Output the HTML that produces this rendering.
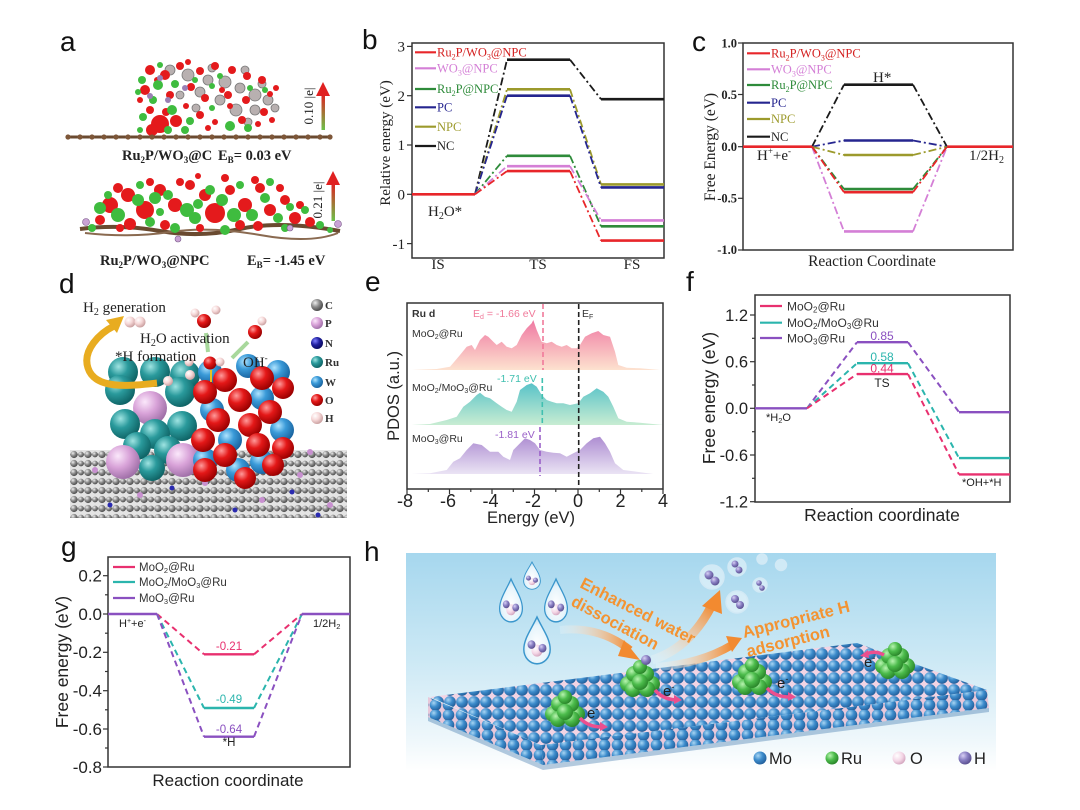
<!DOCTYPE html>
<html><head><meta charset="utf-8">
<style>
html,body{margin:0;padding:0;background:#fff;}
svg{display:block;}
.s{font-family:"Liberation Sans",Arial,sans-serif;}
.r{font-family:"Liberation Serif","Times New Roman",serif;}
</style></head><body>
<svg width="1080" height="810" viewBox="0 0 1080 810" xmlns="http://www.w3.org/2000/svg">
<defs>
 <linearGradient id="gPink" x1="0" y1="320" x2="0" y2="370" gradientUnits="userSpaceOnUse">
  <stop offset="0" stop-color="#ef78a2"/><stop offset="1" stop-color="#fde2cf"/></linearGradient>
 <linearGradient id="gGreen" x1="0" y1="383" x2="0" y2="425" gradientUnits="userSpaceOnUse">
  <stop offset="0" stop-color="#58c2c8"/><stop offset="1" stop-color="#c8ecd2"/></linearGradient>
 <linearGradient id="gPurp" x1="0" y1="437" x2="0" y2="475" gradientUnits="userSpaceOnUse">
  <stop offset="0" stop-color="#ae8ed2"/><stop offset="1" stop-color="#ece6f5"/></linearGradient>
 <linearGradient id="arrA" x1="0" y1="1" x2="0" y2="0">
  <stop offset="0" stop-color="#6cc24a"/><stop offset="1" stop-color="#e02020"/></linearGradient>
 <radialGradient id="ru" cx="0.35" cy="0.32" r="0.7"><stop offset="0" stop-color="#9fe4e2"/><stop offset="0.45" stop-color="#2a9a9c"/><stop offset="1" stop-color="#0f6466"/></radialGradient>
 <radialGradient id="ox" cx="0.35" cy="0.32" r="0.7"><stop offset="0" stop-color="#ff9a9a"/><stop offset="0.45" stop-color="#e41818"/><stop offset="1" stop-color="#9a0000"/></radialGradient>
 <radialGradient id="wb" cx="0.35" cy="0.32" r="0.7"><stop offset="0" stop-color="#b0e4ff"/><stop offset="0.45" stop-color="#3a9ad8"/><stop offset="1" stop-color="#1a64a0"/></radialGradient>
 <radialGradient id="pp" cx="0.35" cy="0.32" r="0.7"><stop offset="0" stop-color="#fbe8fb"/><stop offset="0.5" stop-color="#d8a2d8"/><stop offset="1" stop-color="#a070a8"/></radialGradient>
 <radialGradient id="hh" cx="0.35" cy="0.32" r="0.7"><stop offset="0" stop-color="#ffffff"/><stop offset="0.5" stop-color="#f6d8d8"/><stop offset="1" stop-color="#caa0a0"/></radialGradient>
 <radialGradient id="cc" cx="0.35" cy="0.32" r="0.7"><stop offset="0" stop-color="#eeeeee"/><stop offset="0.5" stop-color="#8c8c8c"/><stop offset="1" stop-color="#4a4a4a"/></radialGradient>
 <radialGradient id="nn" cx="0.35" cy="0.32" r="0.7"><stop offset="0" stop-color="#8080ff"/><stop offset="0.5" stop-color="#2020a0"/><stop offset="1" stop-color="#0a0a60"/></radialGradient>
 <radialGradient id="mo" cx="0.35" cy="0.32" r="0.7"><stop offset="0" stop-color="#a8d6f4"/><stop offset="0.5" stop-color="#3d8ccc"/><stop offset="1" stop-color="#23609c"/></radialGradient>
 <radialGradient id="ruG" cx="0.35" cy="0.32" r="0.7"><stop offset="0" stop-color="#b8f4b0"/><stop offset="0.5" stop-color="#4cbc4c"/><stop offset="1" stop-color="#2a862a"/></radialGradient>
 <radialGradient id="hP" cx="0.35" cy="0.32" r="0.7"><stop offset="0" stop-color="#d8d0f4"/><stop offset="0.5" stop-color="#8a80c4"/><stop offset="1" stop-color="#5a5090"/></radialGradient>
 <radialGradient id="oP" cx="0.35" cy="0.32" r="0.7"><stop offset="0" stop-color="#ffffff"/><stop offset="0.6" stop-color="#f4d6e6"/><stop offset="1" stop-color="#d4a8c0"/></radialGradient>
 <radialGradient id="dropG" cx="0.5" cy="0.6" r="0.6"><stop offset="0" stop-color="#ffffff"/><stop offset="0.7" stop-color="#e6f4fb"/><stop offset="1" stop-color="#b7dcf0"/></radialGradient>
 <linearGradient id="hbg" x1="0" y1="0" x2="0" y2="1">
  <stop offset="0" stop-color="#a6d7ee"/><stop offset="0.5" stop-color="#cde9f5"/><stop offset="0.85" stop-color="#eef7fb"/><stop offset="1" stop-color="#ffffff"/></linearGradient>
 <linearGradient id="orA" x1="0" y1="0" x2="1" y2="0">
  <stop offset="0" stop-color="#ffffff" stop-opacity="0.2"/><stop offset="1" stop-color="#f28a30"/></linearGradient>
 <linearGradient id="orB" x1="0" y1="1" x2="1" y2="0">
  <stop offset="0" stop-color="#ffffff" stop-opacity="0.2"/><stop offset="1" stop-color="#f28a30"/></linearGradient>
 <pattern id="slab" width="12" height="12" patternUnits="userSpaceOnUse">
  <rect width="12" height="12" fill="#f2d4e4"/><circle cx="6" cy="6" r="5.9" fill="url(#mo)"/></pattern>
 <pattern id="slab2" width="13" height="10" patternUnits="userSpaceOnUse">
  <rect width="13" height="10" fill="#e8c8da"/><circle cx="6.5" cy="5" r="5.8" fill="url(#mo)"/></pattern>
 <pattern id="carb" width="14" height="9" patternUnits="userSpaceOnUse">
  <rect width="14" height="9" fill="#e4e4e4"/><line x1="0" y1="4.5" x2="14" y2="4.5" stroke="#9a9a9a" stroke-width="1.6"/>
  <circle cx="4" cy="4.5" r="3.6" fill="url(#cc)"/><circle cx="11" cy="4.5" r="2.9" fill="url(#cc)"/></pattern>
 <g id="drop">
  <path d="M0,-20 C5,-10 12,-2 12,7 A12,12 0 0 1 -12,7 C-12,-2 -5,-10 0,-20 Z" fill="url(#dropG)" stroke="#3a96cc" stroke-width="1.3"/>
  <circle cx="0" cy="8" r="5" fill="url(#oP)"/><circle cx="-5" cy="3" r="3.6" fill="url(#hP)"/><circle cx="5" cy="6" r="3.6" fill="url(#hP)"/>
 </g>
 <g id="ruc">
  <circle cx="-12" cy="4" r="8" fill="url(#ruG)"/><circle cx="12" cy="4" r="8" fill="url(#ruG)"/>
  <circle cx="-6" cy="-6" r="8" fill="url(#ruG)"/><circle cx="6" cy="-6" r="8" fill="url(#ruG)"/>
  <circle cx="0" cy="-13" r="7" fill="url(#ruG)"/><circle cx="-7" cy="9" r="8" fill="url(#ruG)"/>
  <circle cx="7" cy="9" r="8" fill="url(#ruG)"/><circle cx="0" cy="2" r="8" fill="url(#ruG)"/>
 </g>
</defs>
<rect width="1080" height="810" fill="#fff"/>

<!-- ================= panel letters ================= -->
<g class="s" font-size="28" fill="#111">
 <text x="60" y="51">a</text>
 <text x="362" y="49">b</text>
 <text x="692" y="51">c</text>
 <text x="59" y="293">d</text>
 <text x="365" y="291">e</text>
 <text x="686" y="291">f</text>
 <text x="61" y="556">g</text>
 <text x="364" y="561">h</text>
</g>

<!-- ================= panel a ================= -->
<g>
 <!-- top structure -->
 <g fill="#b8b0b0" stroke="#777" stroke-width="0.8">
  <circle cx="170" cy="70" r="5"/><circle cx="188" cy="75" r="6"/><circle cx="208" cy="80" r="5"/><circle cx="225" cy="82" r="6"/>
  <circle cx="240" cy="88" r="5"/><circle cx="255" cy="95" r="6"/><circle cx="268" cy="100" r="5"/><circle cx="220" cy="100" r="5"/>
  <circle cx="200" cy="92" r="5"/><circle cx="236" cy="110" r="6"/><circle cx="255" cy="110" r="5"/><circle cx="180" cy="95" r="4"/>
  <circle cx="245" cy="70" r="4"/><circle cx="262" cy="84" r="4"/><circle cx="275" cy="108" r="4"/><circle cx="212" cy="68" r="4"/>
  <circle cx="196" cy="108" r="4"/><circle cx="248" cy="122" r="4"/>
 </g>
 <g fill="#e41a1c">
  <circle cx="150" cy="70" r="5"/><circle cx="165" cy="75" r="5"/><circle cx="180" cy="66" r="4"/><circle cx="200" cy="71" r="4"/>
  <circle cx="215" cy="66" r="4"/><circle cx="232" cy="70" r="4"/><circle cx="247" cy="76" r="4"/><circle cx="262" cy="80" r="4"/>
  <circle cx="276" cy="88" r="3"/><circle cx="145" cy="90" r="5"/><circle cx="170" cy="95" r="4"/><circle cx="191" cy="87" r="4"/>
  <circle cx="205" cy="98" r="4"/><circle cx="228" cy="95" r="4"/><circle cx="246" cy="100" r="4"/><circle cx="264" cy="112" r="4"/>
  <circle cx="272" cy="120" r="3"/><circle cx="150" cy="110" r="4"/><circle cx="160" cy="124" r="9"/><circle cx="176" cy="121" r="6"/>
  <circle cx="200" cy="115" r="4"/><circle cx="215" cy="122" r="3"/><circle cx="242" cy="120" r="4"/><circle cx="258" cy="124" r="3"/>
  <circle cx="140" cy="100" r="3"/><circle cx="186" cy="106" r="3"/><circle cx="230" cy="106" r="3"/><circle cx="152" cy="130" r="6"/>
  <circle cx="157" cy="80" r="3"/><circle cx="188" cy="62" r="3"/><circle cx="222" cy="90" r="3"/><circle cx="270" cy="94" r="3"/>
  <circle cx="166" cy="112" r="4"/><circle cx="208" cy="128" r="3"/>
 </g>
 <g fill="#3fbc3f">
  <circle cx="142" cy="80" r="4"/><circle cx="158" cy="85" r="5"/><circle cx="175" cy="84" r="4"/><circle cx="195" cy="80" r="3"/>
  <circle cx="212" cy="86" r="3"/><circle cx="250" cy="88" r="3"/><circle cx="153" cy="100" r="4"/><circle cx="172" cy="110" r="5"/>
  <circle cx="190" cy="121" r="4"/><circle cx="212" cy="108" r="3"/><circle cx="230" cy="126" r="5"/><circle cx="248" cy="128" r="4"/>
  <circle cx="185" cy="130" r="4"/><circle cx="143" cy="117" r="4"/><circle cx="265" cy="90" r="3"/><circle cx="220" cy="76" r="3"/>
  <circle cx="160" cy="65" r="3"/><circle cx="140" cy="130" r="3"/><circle cx="168" cy="130" r="4"/><circle cx="138" cy="92" r="3"/>
 </g>
 <g fill="#9a7fb4"><circle cx="160" cy="78" r="3"/><circle cx="150" cy="96" r="3"/><circle cx="168" cy="100" r="3"/><circle cx="185" cy="88" r="3"/></g>
 <line x1="67" y1="137" x2="330" y2="137" stroke="#6a4a30" stroke-width="3"/>
 <g fill="#7d5638">
  <circle cx="68" cy="137" r="2.6"/><circle cx="80" cy="137" r="2.6"/><circle cx="92" cy="137" r="2.6"/><circle cx="104" cy="137" r="2.6"/>
  <circle cx="116" cy="137" r="2.6"/><circle cx="128" cy="137" r="2.6"/><circle cx="140" cy="137" r="2.6"/><circle cx="152" cy="137" r="2.6"/>
  <circle cx="164" cy="137" r="2.6"/><circle cx="176" cy="137" r="2.6"/><circle cx="188" cy="137" r="2.6"/><circle cx="200" cy="137" r="2.6"/>
  <circle cx="212" cy="137" r="2.6"/><circle cx="224" cy="137" r="2.6"/><circle cx="236" cy="137" r="2.6"/><circle cx="248" cy="137" r="2.6"/>
  <circle cx="260" cy="137" r="2.6"/><circle cx="272" cy="137" r="2.6"/><circle cx="284" cy="137" r="2.6"/><circle cx="296" cy="137" r="2.6"/>
  <circle cx="308" cy="137" r="2.6"/><circle cx="320" cy="137" r="2.6"/><circle cx="330" cy="137" r="2.6"/>
 </g>
 <rect x="321.5" y="94" width="3.5" height="36" fill="url(#arrA)"/>
 <polygon points="316,96 330,96 323,82" fill="#e02020"/>
 <text class="r" font-size="13" fill="#222" transform="translate(313,106) rotate(-90)" text-anchor="middle">0.10 |e|</text>
 <g class="r" font-size="14.5" font-weight="bold" fill="#222">
  <text x="122" y="160">Ru<tspan font-size="9" dy="3">2</tspan><tspan dy="-3">P/WO</tspan><tspan font-size="9" dy="3">3</tspan><tspan dy="-3">@C</tspan></text>
  <text x="218" y="160">E<tspan font-size="9" dy="3">B</tspan><tspan dy="-3">= 0.03 eV</tspan></text>
 </g>
 <!-- bottom structure -->
 <path d="M80,229 Q120,224 160,231 T240,229 T340,231" fill="none" stroke="#6a4a30" stroke-width="4"/>
 <path d="M85,233 Q130,238 170,232 T260,235 T338,233" fill="none" stroke="#8a6a50" stroke-width="2"/>
 <g fill="#e41a1c">
  <circle cx="110" cy="205" r="8"/><circle cx="128" cy="195" r="7"/><circle cx="145" cy="210" r="9"/><circle cx="130" cy="224" r="6"/>
  <circle cx="160" cy="190" r="6"/><circle cx="175" cy="205" r="7"/><circle cx="190" cy="185" r="5"/><circle cx="205" cy="195" r="6"/>
  <circle cx="215" cy="213" r="10"/><circle cx="230" cy="190" r="5"/><circle cx="245" cy="205" r="7"/><circle cx="260" cy="188" r="5"/>
  <circle cx="270" cy="210" r="6"/><circle cx="285" cy="200" r="5"/><circle cx="295" cy="218" r="6"/><circle cx="310" cy="222" r="5"/>
  <circle cx="100" cy="220" r="5"/><circle cx="165" cy="225" r="5"/><circle cx="240" cy="225" r="5"/><circle cx="200" cy="228" r="4"/>
  <circle cx="180" cy="182" r="4"/><circle cx="255" cy="180" r="4"/><circle cx="225" cy="178" r="4"/><circle cx="198" cy="176" r="3"/>
  <circle cx="118" cy="188" r="5"/><circle cx="150" cy="182" r="4"/><circle cx="280" cy="188" r="4"/><circle cx="300" cy="205" r="4"/>
  <circle cx="258" cy="226" r="5"/><circle cx="120" cy="228" r="4"/>
 </g>
 <g fill="#3fbc3f">
  <circle cx="100" cy="208" r="6"/><circle cx="118" cy="215" r="7"/><circle cx="138" cy="200" r="6"/><circle cx="155" cy="198" r="6"/>
  <circle cx="150" cy="222" r="5"/><circle cx="168" cy="195" r="5"/><circle cx="187" cy="210" r="7"/><circle cx="198" cy="204" r="5"/>
  <circle cx="210" cy="190" r="5"/><circle cx="222" cy="200" r="6"/><circle cx="234" cy="215" r="7"/><circle cx="252" cy="215" r="6"/>
  <circle cx="265" cy="198" r="5"/><circle cx="278" cy="218" r="5"/><circle cx="290" cy="207" r="4"/><circle cx="305" cy="210" r="4"/>
  <circle cx="320" cy="225" r="4"/><circle cx="195" cy="218" r="6"/><circle cx="175" cy="228" r="5"/><circle cx="225" cy="230" r="5"/>
  <circle cx="140" cy="185" r="4"/><circle cx="270" cy="182" r="4"/><circle cx="92" cy="228" r="4"/><circle cx="330" cy="230" r="3"/>
  <circle cx="108" cy="195" r="4"/><circle cx="240" cy="185" r="4"/><circle cx="285" cy="228" r="4"/><circle cx="160" cy="212" r="4"/>
 </g>
 <g fill="#c9a2d4" stroke="#7a5a8a" stroke-width="0.6">
  <circle cx="86" cy="222" r="3.5"/><circle cx="338" cy="224" r="3.5"/><circle cx="178" cy="239" r="3"/><circle cx="290" cy="228" r="3"/>
 </g>
 <rect x="331.5" y="183" width="3.5" height="38" fill="url(#arrA)"/>
 <polygon points="326,185 340,185 333,171" fill="#e02020"/>
 <text class="r" font-size="13" fill="#222" transform="translate(322,200) rotate(-90)" text-anchor="middle">0.21 |e|</text>
 <g class="r" font-size="14.5" font-weight="bold" fill="#222">
  <text x="100" y="265">Ru<tspan font-size="9" dy="3">2</tspan><tspan dy="-3">P/WO</tspan><tspan font-size="9" dy="3">3</tspan><tspan dy="-3">@NPC</tspan></text>
  <text x="247" y="265">E<tspan font-size="9" dy="3">B</tspan><tspan dy="-3">= -1.45 eV</tspan></text>
 </g>
</g>

<!-- ================= panel b ================= -->
<g class="r">
 <rect x="412" y="43" width="252" height="215" fill="none" stroke="#333" stroke-width="1.5"/>
 <g stroke="#333" stroke-width="1.2">
  <line x1="407" y1="46.4" x2="412" y2="46.4"/><line x1="407" y1="95.7" x2="412" y2="95.7"/><line x1="407" y1="145" x2="412" y2="145"/>
  <line x1="407" y1="194.3" x2="412" y2="194.3"/><line x1="407" y1="243.6" x2="412" y2="243.6"/>
 </g>
 <g font-size="15" fill="#222" text-anchor="end">
  <text x="405" y="51.5">3</text><text x="405" y="101">2</text><text x="405" y="150">1</text><text x="405" y="199.5">0</text><text x="405" y="249">-1</text>
 </g>
 <text font-size="15" fill="#222" transform="translate(390,143) rotate(-90)" text-anchor="middle">Relative energy (eV)</text>
 <g font-size="15" fill="#222" text-anchor="middle">
  <text x="438" y="269">IS</text><text x="538" y="269">TS</text><text x="632" y="269">FS</text>
 </g>
 <text x="428" y="216" font-size="15" fill="#222">H<tspan font-size="10" dy="3">2</tspan><tspan dy="-3">O*</tspan></text>
 <g fill="none" stroke-width="1.8" stroke-dasharray="8,3,2,3">
  <path d="M475,194.3 L507,59.7 M570,59.7 L601,99.2" stroke="#1a1a1a"/>
  <path d="M475,194.3 L507,89.3 M570,89.3 L601,184.4" stroke="#9c9a2c"/>
  <path d="M475,194.3 L507,95.7 M570,95.7 L601,187.4" stroke="#25258f"/>
  <path d="M475,194.3 L507,155.8 M570,155.8 L601,226.3" stroke="#2e8b3a"/>
  <path d="M475,194.3 L507,166.2 M570,166.2 L601,220.4" stroke="#d47fd6"/>
  <path d="M475,194.3 L507,171.1 M570,171.1 L601,240.6" stroke="#e8262a"/>
 </g>
 <g fill="none" stroke-width="2.6">
  <path d="M507,59.7 H570 M601,99.2 H664" stroke="#1a1a1a"/>
  <path d="M507,89.3 H570 M601,184.4 H664" stroke="#9c9a2c"/>
  <path d="M507,95.7 H570 M601,187.4 H664" stroke="#25258f"/>
  <path d="M507,155.8 H570 M601,226.3 H664" stroke="#2e8b3a"/>
  <path d="M507,166.2 H570 M601,220.4 H664" stroke="#d47fd6"/>
  <path d="M507,171.1 H570 M601,240.6 H664 M412,194.3 H475" stroke="#e8262a"/>
 </g>
 <g stroke-width="2.2">
  <line x1="415" y1="52.3" x2="436" y2="52.3" stroke="#e8262a"/>
  <line x1="415" y1="68.3" x2="436" y2="68.3" stroke="#d47fd6"/>
  <line x1="415" y1="89" x2="436" y2="89" stroke="#2e8b3a"/>
  <line x1="415" y1="107.3" x2="436" y2="107.3" stroke="#25258f"/>
  <line x1="415" y1="126.7" x2="436" y2="126.7" stroke="#9c9a2c"/>
  <line x1="415" y1="146" x2="436" y2="146" stroke="#1a1a1a"/>
 </g>
 <g font-size="12.5">
  <text x="437" y="56.5" fill="#d42020">Ru<tspan font-size="8" dy="3">2</tspan><tspan dy="-3">P/WO</tspan><tspan font-size="8" dy="3">3</tspan><tspan dy="-3">@NPC</tspan></text>
  <text x="437" y="72.5" fill="#d47fd6">WO<tspan font-size="8" dy="3">3</tspan><tspan dy="-3">@NPC</tspan></text>
  <text x="437" y="93" fill="#2e8b3a">Ru<tspan font-size="8" dy="3">2</tspan><tspan dy="-3">P@NPC</tspan></text>
  <text x="437" y="111.5" fill="#25258f">PC</text>
  <text x="437" y="131" fill="#9c9a2c">NPC</text>
  <text x="437" y="150" fill="#222">NC</text>
 </g>
</g>

<!-- ================= panel c ================= -->
<g class="r">
 <rect x="743" y="43" width="270" height="207" fill="none" stroke="#333" stroke-width="1.5"/>
 <g stroke="#333" stroke-width="1.2">
  <line x1="738" y1="43" x2="743" y2="43"/><line x1="738" y1="94.5" x2="743" y2="94.5"/><line x1="738" y1="146.7" x2="743" y2="146.7"/>
  <line x1="738" y1="198.3" x2="743" y2="198.3"/><line x1="738" y1="250" x2="743" y2="250"/>
 </g>
 <g font-size="12.5" fill="#222" text-anchor="end" font-weight="bold">
  <text x="737" y="47.5">1.0</text><text x="737" y="99">0.5</text><text x="737" y="151">0.0</text><text x="737" y="202.5">-0.5</text><text x="737" y="254">-1.0</text>
 </g>
 <text font-size="15.5" fill="#222" transform="translate(715,147) rotate(-90)" text-anchor="middle">Free Energy (eV)</text>
 <text x="872" y="266" font-size="15.5" fill="#222" text-anchor="middle">Reaction Coordinate</text>
 <g fill="none" stroke-width="1.8" stroke-dasharray="8,3,2,3">
  <path d="M812,146.7 L844,84.7 M913,84.7 L947,146.7" stroke="#1a1a1a"/>
  <path d="M812,146.7 L844,140.5 M913,140.5 L947,146.7" stroke="#25258f"/>
  <path d="M812,146.7 L844,155 M913,155 L947,146.7" stroke="#9c9a2c"/>
  <path d="M812,146.7 L844,231.4 M913,231.4 L947,146.7" stroke="#d47fd6"/>
  <path d="M812,146.7 L844,189.1 M913,189.1 L947,146.7" stroke="#2e8b3a"/>
  <path d="M812,146.7 L844,192.2 M913,192.2 L947,146.7" stroke="#e8262a"/>
 </g>
 <g fill="none" stroke-width="2.6">
  <path d="M844,84.7 H913" stroke="#1a1a1a"/>
  <path d="M844,140.5 H913" stroke="#25258f"/>
  <path d="M844,155 H913" stroke="#9c9a2c"/>
  <path d="M844,231.4 H913" stroke="#d47fd6"/>
  <path d="M844,192.2 H913" stroke="#e8262a"/>
  <path d="M844,189.1 H913" stroke="#2e8b3a"/>
  <path d="M743,146.7 H812 M947,146.7 H1013" stroke="#e8262a"/>
 </g>
 <g stroke-width="2.2">
  <line x1="747" y1="53.3" x2="770" y2="53.3" stroke="#e8262a"/>
  <line x1="747" y1="69.3" x2="770" y2="69.3" stroke="#d47fd6"/>
  <line x1="747" y1="85" x2="770" y2="85" stroke="#2e8b3a"/>
  <line x1="747" y1="102.7" x2="770" y2="102.7" stroke="#25258f"/>
  <line x1="747" y1="119" x2="770" y2="119" stroke="#9c9a2c"/>
  <line x1="747" y1="136.7" x2="770" y2="136.7" stroke="#1a1a1a"/>
 </g>
 <g font-size="12.5">
  <text x="771" y="57.5" fill="#d42020">Ru<tspan font-size="8" dy="3">2</tspan><tspan dy="-3">P/WO</tspan><tspan font-size="8" dy="3">3</tspan><tspan dy="-3">@NPC</tspan></text>
  <text x="771" y="73.5" fill="#d47fd6">WO<tspan font-size="8" dy="3">3</tspan><tspan dy="-3">@NPC</tspan></text>
  <text x="771" y="89" fill="#2e8b3a">Ru<tspan font-size="8" dy="3">2</tspan><tspan dy="-3">P@NPC</tspan></text>
  <text x="771" y="107" fill="#25258f">PC</text>
  <text x="771" y="123" fill="#9c9a2c">NPC</text>
  <text x="771" y="141" fill="#222">NC</text>
 </g>
 <text x="873" y="82" font-size="15" fill="#222">H*</text>
 <text x="757" y="160" font-size="15" fill="#222">H<tspan font-size="9" dy="-6">+</tspan><tspan dy="6">+e</tspan><tspan font-size="9" dy="-6">-</tspan></text>
 <text x="969" y="160" font-size="15" fill="#222">1/2H<tspan font-size="10" dy="3">2</tspan></text>
</g>

<!-- ================= panel d ================= -->
<g>
 <rect x="70" y="450" width="277" height="68" fill="url(#carb)"/>
 <g fill="#c890d0"><circle cx="95" cy="470" r="3"/><circle cx="140" cy="495" r="3"/><circle cx="205" cy="483" r="3"/><circle cx="262" cy="500" r="3"/><circle cx="300" cy="475" r="3"/><circle cx="330" cy="505" r="3"/><circle cx="310" cy="452" r="3"/></g>
 <g fill="#2a2ab0"><circle cx="110" cy="505" r="2.5"/><circle cx="172" cy="488" r="2.5"/><circle cx="235" cy="510" r="2.5"/><circle cx="292" cy="492" r="2.5"/><circle cx="318" cy="515" r="2.5"/></g>
 <!-- Ru block -->
 <g>
  <circle cx="123" cy="372" r="15" fill="url(#ru)"/><circle cx="155" cy="372" r="15" fill="url(#ru)"/><circle cx="185" cy="375" r="15" fill="url(#ru)"/>
  <circle cx="120" cy="390" r="15" fill="url(#ru)"/><circle cx="180" cy="392" r="15" fill="url(#ru)"/>
  <circle cx="150" cy="408" r="17" fill="url(#pp)"/>
  <circle cx="125" cy="424" r="15" fill="url(#ru)"/><circle cx="182" cy="426" r="15" fill="url(#ru)"/><circle cx="155" cy="434" r="15" fill="url(#ru)"/>
  <circle cx="137" cy="446" r="14" fill="url(#ru)"/><circle cx="168" cy="450" r="14" fill="url(#ru)"/>
  <circle cx="123" cy="462" r="17" fill="url(#pp)"/><circle cx="183" cy="460" r="17" fill="url(#pp)"/>
  <circle cx="152" cy="468" r="13" fill="url(#ru)"/>
 </g>
 <!-- W/O block -->
 <g>
  <circle cx="210" cy="372" r="12" fill="url(#wb)"/><circle cx="248" cy="366" r="12" fill="url(#wb)"/><circle cx="278" cy="372" r="12" fill="url(#wb)"/>
  <circle cx="212" cy="410" r="12" fill="url(#wb)"/><circle cx="262" cy="398" r="12" fill="url(#wb)"/><circle cx="282" cy="430" r="12" fill="url(#wb)"/>
  <circle cx="230" cy="440" r="12" fill="url(#wb)"/><circle cx="205" cy="460" r="12" fill="url(#wb)"/><circle cx="262" cy="462" r="12" fill="url(#wb)"/>
  <circle cx="238" cy="470" r="12" fill="url(#wb)"/>
  <circle cx="225" cy="380" r="12" fill="url(#ox)"/><circle cx="262" cy="378" r="12" fill="url(#ox)"/><circle cx="283" cy="388" r="11" fill="url(#ox)"/>
  <circle cx="205" cy="392" r="12" fill="url(#ox)"/><circle cx="240" cy="400" r="12" fill="url(#ox)"/><circle cx="270" cy="412" r="12" fill="url(#ox)"/>
  <circle cx="218" cy="420" r="12" fill="url(#ox)"/><circle cx="250" cy="425" r="12" fill="url(#ox)"/><circle cx="283" cy="448" r="11" fill="url(#ox)"/>
  <circle cx="203" cy="440" r="12" fill="url(#ox)"/><circle cx="258" cy="445" r="12" fill="url(#ox)"/><circle cx="225" cy="455" r="12" fill="url(#ox)"/>
  <circle cx="273" cy="465" r="11" fill="url(#ox)"/><circle cx="205" cy="470" r="12" fill="url(#ox)"/><circle cx="245" cy="478" r="11" fill="url(#ox)"/>
 </g>
 <!-- H and water -->
 <g>
  <circle cx="190" cy="375" r="5" fill="url(#hh)"/><circle cx="168" cy="381" r="5" fill="url(#hh)"/><circle cx="189" cy="362" r="4.5" fill="url(#hh)"/>
  <circle cx="130" cy="322" r="5.5" fill="url(#hh)"/><circle cx="140" cy="322" r="5.5" fill="url(#hh)"/>
  <circle cx="210" cy="363" r="6.5" fill="url(#ox)"/><circle cx="220" cy="362" r="4.5" fill="url(#hh)"/>
  <circle cx="204" cy="321" r="7" fill="url(#ox)"/><circle cx="195" cy="313" r="4.5" fill="url(#hh)"/><circle cx="216" cy="310" r="4.5" fill="url(#hh)"/>
  <circle cx="255" cy="332" r="7" fill="url(#ox)"/><circle cx="262" cy="321" r="4.5" fill="url(#hh)"/>
  <line x1="211" y1="370" x2="211" y2="382" stroke="#e8c020" stroke-width="2"/>
 </g>
 <g stroke="#a8d89c" stroke-width="4" fill="none">
  <line x1="206" y1="333" x2="208" y2="352"/><line x1="248" y1="342" x2="232" y2="358"/>
 </g>
 <path d="M157,383 C130,386 95,390 88,368 C82,350 100,333 114,326" fill="none" stroke="#e8ac20" stroke-width="7"/>
 <polygon points="106,320 124,316 117,333" fill="#e8ac20"/>
 <g class="r" fill="#222" font-size="15">
  <text x="83" y="312">H<tspan font-size="10" dy="3">2</tspan><tspan dy="-3"> generation</tspan></text>
  <text x="140" y="343">H<tspan font-size="10" dy="3">2</tspan><tspan dy="-3">O activation</tspan></text>
  <text x="115" y="361">*H formation</text>
  <text x="243" y="367">OH<tspan font-size="9" dy="-6">-</tspan></text>
 </g>
 <g>
  <circle cx="317" cy="305" r="6" fill="url(#cc)"/><circle cx="317" cy="323" r="6" fill="url(#pp)"/><circle cx="317" cy="343" r="6" fill="url(#nn)"/>
  <circle cx="317" cy="362" r="6" fill="url(#ru)"/><circle cx="317" cy="382" r="6" fill="url(#wb)"/><circle cx="317" cy="400" r="6" fill="url(#ox)"/>
  <circle cx="317" cy="418" r="6" fill="url(#hh)"/>
 </g>
 <g class="r" font-size="11" font-weight="bold" fill="#333">
  <text x="325" y="309">C</text><text x="325" y="327">P</text><text x="325" y="347">N</text><text x="325" y="366">Ru</text>
  <text x="325" y="386">W</text><text x="325" y="404">O</text><text x="325" y="422">H</text>
 </g>
</g>

<!-- ================= panel e ================= -->
<g class="s">
 <path d="M411.7,370 L436.7,369 L450,366.7 L460,355 L466.7,346.7 L471.7,345 L475,350 L480,340 L485,335 L488.3,336.7 L493.3,341.7 L496.7,345 L501.7,341.7 L506.7,346.7 L511.7,348.3 L516.7,345 L521.7,335 L526.7,328.3 L531.7,323.3 L533.3,320 L536.7,330 L541.7,341.7 L546.7,343.3 L551.7,341.7 L556.7,345 L561.7,346.7 L566.7,345 L571.7,348.3 L576.7,348.3 L580,345 L585,336.7 L591.7,333.3 L598.3,331 L603.3,335 L610,336.7 L615,351.7 L618.3,365 L626.7,367.7 L640,368.3 L660,370 Z" fill="url(#gPink)"/>
 <path d="M411.7,425 L430,424 L446.7,420 L456.7,416.7 L463.3,406.7 L470,401.7 L476.7,395 L480,392.7 L485,396.7 L490,398.3 L496.7,403.3 L501.7,406.7 L506.7,410 L511.7,411.7 L516.7,401.7 L520,390 L526.7,385 L531.7,383.3 L536.7,386.7 L541.7,395 L546.7,400 L551.7,401.7 L556.7,403.3 L563.3,403.3 L570,405 L578.3,403.3 L583.3,396.7 L590,393.3 L596.7,388.3 L603.3,391.7 L608.3,396.7 L613.3,406.7 L618.3,418.3 L626.7,421.7 L640,422.7 L663,425 Z" fill="url(#gGreen)"/>
 <path d="M411.7,474 L430,473.3 L446.7,470 L453.3,461.7 L460,458.3 L466.7,450 L473.3,443.3 L481.7,445 L490,451.7 L498.3,451.7 L503.3,456.7 L510,460 L513.3,450 L520,443.3 L525,438.3 L530,440 L535,443.3 L540,450 L546.7,451.7 L553.3,452.7 L560,453.3 L566.7,456.7 L573.3,453.3 L580,450 L586.7,443.3 L593.3,438.3 L600,436.7 L605,443.3 L610,451.7 L615,463.3 L623.3,470 L636.7,471.7 L653.3,474 Z" fill="url(#gPurp)"/>
 <g stroke-width="1.6" stroke-dasharray="5,3">
  <line x1="578.7" y1="304" x2="578.7" y2="488" stroke="#222"/>
  <line x1="543" y1="304" x2="543" y2="370" stroke="#f07a9a"/>
  <line x1="542.3" y1="378" x2="542.3" y2="425" stroke="#40c0b0"/>
  <line x1="540" y1="427" x2="540" y2="476" stroke="#9a60c8"/>
 </g>
 <rect x="407" y="303" width="256" height="186" fill="none" stroke="#333" stroke-width="1.5"/>
 <g stroke="#333" stroke-width="1.2">
  <line x1="407" y1="489" x2="407" y2="494"/><line x1="449.5" y1="489" x2="449.5" y2="494"/><line x1="492" y1="489" x2="492" y2="494"/>
  <line x1="534.5" y1="489" x2="534.5" y2="494"/><line x1="578" y1="489" x2="578" y2="494"/><line x1="620.5" y1="489" x2="620.5" y2="494"/>
  <line x1="663" y1="489" x2="663" y2="494"/>
  <line x1="428.3" y1="489" x2="428.3" y2="492"/><line x1="470.8" y1="489" x2="470.8" y2="492"/><line x1="513.3" y1="489" x2="513.3" y2="492"/>
  <line x1="555.8" y1="489" x2="555.8" y2="492"/><line x1="599.3" y1="489" x2="599.3" y2="492"/><line x1="641.8" y1="489" x2="641.8" y2="492"/>
 </g>
 <g font-size="18" fill="#222" text-anchor="middle">
  <text x="405" y="507">-8</text><text x="448" y="507">-6</text><text x="490.5" y="507">-4</text><text x="533" y="507">-2</text>
  <text x="578" y="507">0</text><text x="620.5" y="507">2</text><text x="663" y="507">4</text>
 </g>
 <text x="531" y="523" font-size="16.5" fill="#222" text-anchor="middle">Energy (eV)</text>
 <text font-size="16.5" fill="#222" transform="translate(399,396) rotate(-90)" text-anchor="middle">PDOS (a.u.)</text>
 <g font-size="10.5" fill="#333">
  <text x="412" y="317" font-weight="bold">Ru d</text>
  <text x="412" y="337">MoO<tspan font-size="7" dy="2">2</tspan><tspan dy="-2">@Ru</tspan></text>
  <text x="473" y="317" fill="#f07a9a">E<tspan font-size="7" dy="2">d</tspan><tspan dy="-2"> = -1.66 eV</tspan></text>
  <text x="582" y="317">E<tspan font-size="7" dy="2">F</tspan></text>
  <text x="497" y="382" fill="#40c0b0">-1.71 eV</text>
  <text x="412" y="391">MoO<tspan font-size="7" dy="2">2</tspan><tspan dy="-2">/MoO</tspan><tspan font-size="7" dy="2">3</tspan><tspan dy="-2">@Ru</tspan></text>
  <text x="495" y="438" fill="#9a60c8">-1.81 eV</text>
  <text x="412" y="442">MoO<tspan font-size="7" dy="2">3</tspan><tspan dy="-2">@Ru</tspan></text>
 </g>
</g>

<!-- ================= panel f ================= -->
<g class="s">
 <rect x="755" y="295" width="255" height="207" fill="none" stroke="#333" stroke-width="1.5"/>
 <g stroke="#333" stroke-width="1.2">
  <line x1="750" y1="315" x2="755" y2="315"/><line x1="750" y1="361.7" x2="755" y2="361.7"/><line x1="750" y1="408.3" x2="755" y2="408.3"/>
  <line x1="750" y1="455" x2="755" y2="455"/><line x1="750" y1="501.7" x2="755" y2="501.7"/>
  <line x1="752" y1="338.3" x2="755" y2="338.3"/><line x1="752" y1="385" x2="755" y2="385"/><line x1="752" y1="431.7" x2="755" y2="431.7"/><line x1="752" y1="478.3" x2="755" y2="478.3"/>
 </g>
 <g font-size="16.5" fill="#222" text-anchor="end">
  <text x="748" y="321">1.2</text><text x="748" y="367.5">0.6</text><text x="748" y="414">0.0</text><text x="748" y="461">-0.6</text><text x="748" y="507.5">-1.2</text>
 </g>
 <text font-size="17.5" fill="#222" transform="translate(715,398) rotate(-90)" text-anchor="middle">Free energy (eV)</text>
 <text x="882" y="521" font-size="17.5" fill="#222" text-anchor="middle">Reaction coordinate</text>
 <g fill="none" stroke-width="2" stroke-dasharray="6,4">
  <path d="M807,408.3 L857,342.2 M908,342.2 L959,412.2" stroke="#8a50c0"/>
  <path d="M807,408.3 L857,363.2 M908,363.2 L959,458.1" stroke="#2bb5ad"/>
  <path d="M807,408.3 L857,374.1 M908,374.1 L959,474.4" stroke="#e8306f"/>
 </g>
 <g fill="none" stroke-width="2.4">
  <path d="M857,342.2 H908 M959,412.2 H1010 M755,408.3 H807" stroke="#8a50c0"/>
  <path d="M857,363.2 H908 M959,458.1 H1010" stroke="#2bb5ad"/>
  <path d="M857,374.1 H908 M959,474.4 H1010" stroke="#e8306f"/>
 </g>
 <g stroke-width="2.2">
  <line x1="760" y1="306" x2="782" y2="306" stroke="#e8306f"/>
  <line x1="760" y1="322.7" x2="782" y2="322.7" stroke="#2bb5ad"/>
  <line x1="760" y1="338" x2="782" y2="338" stroke="#8a50c0"/>
 </g>
 <g font-size="12" fill="#333">
  <text x="787" y="310.5">MoO<tspan font-size="8" dy="2">2</tspan><tspan dy="-2">@Ru</tspan></text>
  <text x="787" y="327">MoO<tspan font-size="8" dy="2">2</tspan><tspan dy="-2">/MoO</tspan><tspan font-size="8" dy="2">3</tspan><tspan dy="-2">@Ru</tspan></text>
  <text x="787" y="342.5">MoO<tspan font-size="8" dy="2">3</tspan><tspan dy="-2">@Ru</tspan></text>
 </g>
 <g font-size="12" text-anchor="middle">
  <text x="882" y="340" fill="#8a50c0">0.85</text>
  <text x="882" y="361" fill="#2bb5ad">0.58</text>
  <text x="882" y="372.5" fill="#e8306f">0.44</text>
  <text x="882" y="387" fill="#222">TS</text>
 </g>
 <g font-size="11" fill="#222">
  <text x="766" y="421">*H<tspan font-size="7.5" dy="2">2</tspan><tspan dy="-2">O</tspan></text>
  <text x="962" y="486">*OH+*H</text>
 </g>
</g>

<!-- ================= panel g ================= -->
<g class="s">
 <rect x="108" y="557" width="242" height="210" fill="none" stroke="#333" stroke-width="1.5"/>
 <g stroke="#333" stroke-width="1.2">
  <line x1="103" y1="575.7" x2="108" y2="575.7"/><line x1="103" y1="614" x2="108" y2="614"/><line x1="103" y1="652.3" x2="108" y2="652.3"/>
  <line x1="103" y1="690.7" x2="108" y2="690.7"/><line x1="103" y1="729" x2="108" y2="729"/><line x1="103" y1="767" x2="108" y2="767"/>
  <line x1="105" y1="594.8" x2="108" y2="594.8"/><line x1="105" y1="633.2" x2="108" y2="633.2"/><line x1="105" y1="671.5" x2="108" y2="671.5"/>
  <line x1="105" y1="709.8" x2="108" y2="709.8"/><line x1="105" y1="748" x2="108" y2="748"/>
 </g>
 <g font-size="17" fill="#222" text-anchor="end">
  <text x="102" y="581.5">0.2</text><text x="102" y="620">0.0</text><text x="102" y="658">-0.2</text>
  <text x="102" y="696.5">-0.4</text><text x="102" y="735">-0.6</text><text x="102" y="773">-0.8</text>
 </g>
 <text font-size="17.5" fill="#222" transform="translate(68,662) rotate(-90)" text-anchor="middle">Free energy (eV)</text>
 <text x="228" y="786" font-size="17" fill="#222" text-anchor="middle">Reaction coordinate</text>
 <g fill="none" stroke-width="2" stroke-dasharray="6,4">
  <path d="M157,614 L204,654.3 M254,654.3 L302,614" stroke="#e8306f"/>
  <path d="M157,614 L204,708 M254,708 L302,614" stroke="#2bb5ad"/>
  <path d="M157,614 L204,736.7 M254,736.7 L302,614" stroke="#8a50c0"/>
 </g>
 <g fill="none" stroke-width="2.4">
  <path d="M204,654.3 H254" stroke="#e8306f"/>
  <path d="M204,708 H254" stroke="#2bb5ad"/>
  <path d="M204,736.7 H254 M108,614 H157 M302,614 H350" stroke="#8a50c0"/>
 </g>
 <g stroke-width="2.2">
  <line x1="113" y1="567" x2="135" y2="567" stroke="#e8306f"/>
  <line x1="113" y1="582" x2="135" y2="582" stroke="#2bb5ad"/>
  <line x1="113" y1="598" x2="135" y2="598" stroke="#8a50c0"/>
 </g>
 <g font-size="11.5" fill="#333">
  <text x="139" y="571">MoO<tspan font-size="7.5" dy="2">2</tspan><tspan dy="-2">@Ru</tspan></text>
  <text x="139" y="586">MoO<tspan font-size="7.5" dy="2">2</tspan><tspan dy="-2">/MoO</tspan><tspan font-size="7.5" dy="2">3</tspan><tspan dy="-2">@Ru</tspan></text>
  <text x="139" y="602">MoO<tspan font-size="7.5" dy="2">3</tspan><tspan dy="-2">@Ru</tspan></text>
 </g>
 <g font-size="11.5" text-anchor="middle">
  <text x="229" y="650" fill="#e8306f">-0.21</text>
  <text x="229" y="703" fill="#2bb5ad">-0.49</text>
  <text x="229" y="733" fill="#8a50c0">-0.64</text>
  <text x="229" y="746" fill="#222">*H</text>
 </g>
 <g font-size="11" fill="#222">
  <text x="119" y="627">H<tspan font-size="7" dy="-4">+</tspan><tspan dy="4">+e</tspan><tspan font-size="7" dy="-4">-</tspan></text>
  <text x="313" y="627">1/2H<tspan font-size="7.5" dy="2">2</tspan></text>
 </g>
</g>

<!-- ================= panel h ================= -->
<g>
 <rect x="406" y="553" width="590" height="218" fill="url(#hbg)"/>
 <!-- slab -->
 <polygon points="428,697 541,745 543,765 428,717" fill="url(#slab2)"/>
 <polygon points="541,745 987,690 989,708 543,765" fill="url(#slab2)"/>
 <polygon points="430,697 857,643 987,690 541,745" fill="url(#slab)"/>
 <polygon points="428,717 543,765 989,708 989,712 543,770 428,721" fill="#2e6aa4" opacity="0.35"/>
 <!-- Ru clusters -->
 <use href="#ruc" x="565" y="710"/>
 <use href="#ruc" x="640" y="680"/>
 <use href="#ruc" x="752" y="678"/>
 <use href="#ruc" x="895" y="662"/>
 <circle cx="646" cy="660" r="5" fill="url(#hP)"/>
 <!-- e- arrows -->
 <g fill="none" stroke="#ec4f8e" stroke-width="3.5">
  <path d="M580,718 Q588,727 602,727"/><path d="M655,690 Q662,699 676,700"/>
  <path d="M767,688 Q775,697 790,697"/><path d="M884,655 Q875,650 866,654"/>
 </g>
 <g fill="#ec4f8e">
  <polygon points="600,722 608,727 600,731"/><polygon points="674,695 682,700 674,704"/>
  <polygon points="788,692 796,697 788,701"/><polygon points="868,650 860,656 869,658"/>
 </g>
 <g class="s" font-size="15" fill="#222">
  <text x="587" y="718">e<tspan font-size="9" dy="-6">-</tspan></text>
  <text x="663" y="696">e<tspan font-size="9" dy="-6">-</tspan></text>
  <text x="777" y="688">e<tspan font-size="9" dy="-6">-</tspan></text>
  <text x="864" y="667">e<tspan font-size="9" dy="-6">-</tspan></text>
 </g>
 <!-- droplets -->
 <use href="#drop" transform="translate(532,576) scale(0.7)"/>
 <use href="#drop" transform="translate(511,601) scale(0.95,1.1)"/>
 <use href="#drop" transform="translate(556,601) scale(0.95,1.1)"/>
 <use href="#drop" transform="translate(537,641) scale(1.1,1.2)"/>
 <!-- orange arrows -->
 <path d="M560,630 Q600,626 630,650" fill="none" stroke="url(#orA)" stroke-width="8"/>
 <polygon points="624,640 640,660 618,656" fill="#f28a30"/>
 <path d="M652,660 Q690,648 712,605" fill="none" stroke="url(#orB)" stroke-width="9"/>
 <polygon points="702,606 720,590 722,614" fill="#f28a30"/>
 <path d="M656,667 Q700,664 732,645" fill="none" stroke="url(#orA)" stroke-width="8"/>
 <polygon points="726,636 742,638 732,652" fill="#f28a30"/>
 <!-- bubbles -->
 <g fill="#ffffff" fill-opacity="0.45" stroke="#d2e9f5" stroke-width="1.5">
  <circle cx="712" cy="577" r="12"/><circle cx="737" cy="567" r="9"/><circle cx="737" cy="602" r="11"/>
  <circle cx="760" cy="585" r="7"/><circle cx="762" cy="559" r="5"/><circle cx="781" cy="565" r="5.5"/>
 </g>
 <g fill="url(#hP)">
  <circle cx="709" cy="575" r="4.5"/><circle cx="715" cy="581" r="4.5"/><circle cx="735" cy="564" r="3.5"/><circle cx="739" cy="570" r="3.5"/>
  <circle cx="735" cy="599" r="4"/><circle cx="740" cy="605" r="4"/><circle cx="759" cy="583" r="2.8"/><circle cx="762" cy="588" r="2.8"/>
 </g>
 <!-- text -->
 <g class="s" font-size="16.5" font-weight="bold" fill="#f39332">
  <text transform="translate(579,587) rotate(27)">Enhanced water</text>
  <text transform="translate(570,605) rotate(28)">dissociation</text>
  <text transform="translate(744,638) rotate(-14)">Appropriate H</text>
  <text transform="translate(748,657) rotate(-14)">adsorption</text>
 </g>
 <!-- legend -->
 <circle cx="760" cy="758" r="6.5" fill="url(#mo)"/>
 <circle cx="832" cy="758" r="6.5" fill="url(#ruG)"/>
 <circle cx="899" cy="758" r="6.5" fill="url(#oP)"/>
 <circle cx="965" cy="758" r="6.5" fill="url(#hP)"/>
 <g class="s" font-size="16.5" fill="#222">
  <text x="769" y="764">Mo</text><text x="841" y="764">Ru</text><text x="910" y="764">O</text><text x="974" y="764">H</text>
 </g>
</g>
</svg>
</body></html>
